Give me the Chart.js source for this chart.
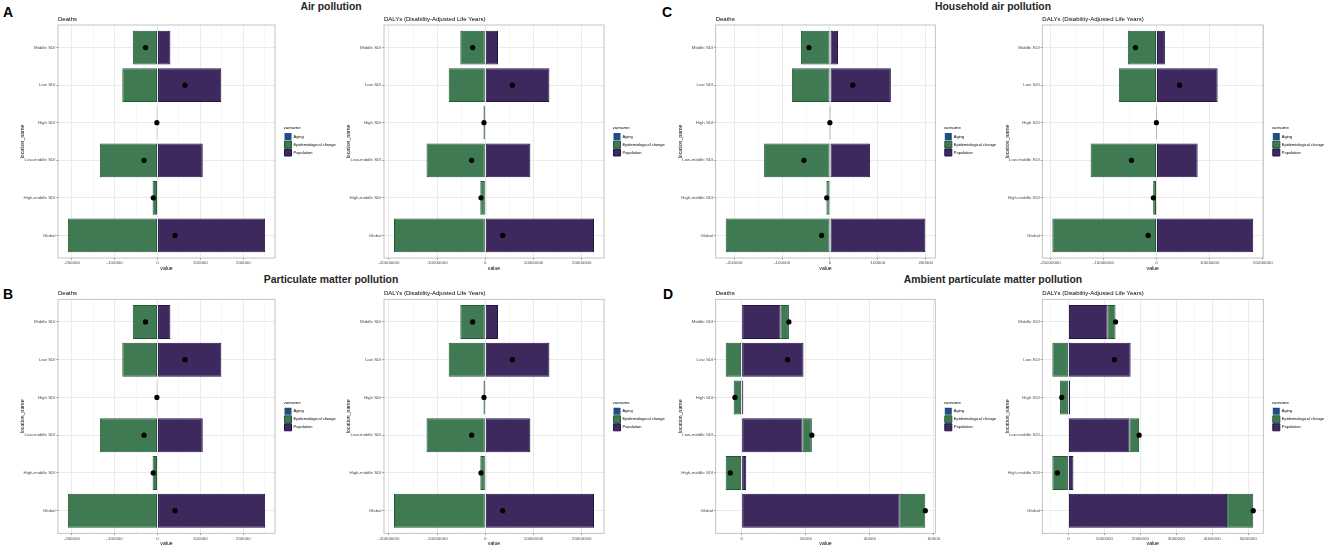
<!DOCTYPE html>
<html><head><meta charset="utf-8">
<script src="https://cdn.jsdelivr.net/npm/chart.js@4.4.1/dist/chart.umd.min.js"></script>
<style>
html,body{margin:0;padding:0;background:#fff;}
#fig{position:relative;width:1325px;height:547px;overflow:hidden;background:#fff;font-family:"Liberation Sans",Arial,sans-serif;}
.lab{position:absolute;font-weight:bold;line-height:1;white-space:nowrap;color:#000;font-size:14px;}
.ttl{position:absolute;font-weight:bold;line-height:1;white-space:nowrap;color:#262626;font-size:10.4px;transform:translateX(-50%);}
canvas{position:absolute;}
</style></head><body><div id="fig">
<div class="lab" style="left:3px;top:4.9px">A</div>
<div class="lab" style="left:3px;top:286.5px">B</div>
<div class="lab" style="left:662px;top:4.9px">C</div>
<div class="lab" style="left:663px;top:286.5px">D</div>
<div class="ttl" style="left:331px;top:1.8px">Air pollution</div>
<div class="ttl" style="left:993px;top:1.8px">Household air pollution</div>
<div class="ttl" style="left:331px;top:275.3px">Particulate matter pollution</div>
<div class="ttl" style="left:993px;top:275.3px">Ambient particulate matter pollution</div>
</div>
<script>
// ---------- data ----------
const categories = ['Middle SDI', 'Low SDI', 'High SDI', 'Low-middle SDI', 'High-middle SDI', 'Global'];
const seriesNames = ['Aging', 'Epidemiological change', 'Population'];

const deathTicksABC = [-200000, -100000, 0, 100000, 200000];
const dalyTicksABC = [-20000000, -10000000, 0, 10000000, 20000000];
const deathTicksD = [0, 20000, 40000, 60000];
const dalyTicksD = [0, 1000000, 2000000, 3000000, 4000000, 5000000];

// A: Air pollution
const airDeathsAging = [0, 0, 0, 0, 0, 0];
const airDeathsEpi = [-57700, -82200, -2000, -134600, -11500, -209200];
const airDeathsPop = [30000, 148700, 500, 105500, 1500, 251000];
const airDeathsTotal = [-28000, 64000, -1500, -31400, -10000, 40800];
const airDalysAging = [0, 0, 0, 0, 0, 0];
const airDalysEpi = [-5190000, -7600000, -380000, -12200000, -1040000, -18950000];
const airDalysPop = [2630000, 13300000, 100000, 9350000, 200000, 22550000];
const airDalysTotal = [-2630000, 5600000, -280000, -2840000, -900000, 3600000];

// B: Particulate matter pollution
const pmDeathsAging = [0, 0, 0, 0, 0, 0];
const pmDeathsEpi = [-57700, -82200, -2000, -134600, -11500, -209200];
const pmDeathsPop = [30000, 148700, 500, 105500, 1500, 251000];
const pmDeathsTotal = [-28000, 64000, -1500, -31400, -10000, 40800];
const pmDalysAging = [0, 0, 0, 0, 0, 0];
const pmDalysEpi = [-5190000, -7600000, -380000, -12200000, -1040000, -18950000];
const pmDalysPop = [2630000, 13300000, 100000, 9350000, 200000, 22550000];
const pmDalysTotal = [-2630000, 5600000, -280000, -2840000, -900000, 3600000];

// C: Household air pollution
const hhDeathsAging = [0, 0, 0, 0, 0, 0];
const hhDeathsEpi = [-60800, -79700, -400, -137700, -7500, -218000];
const hhDeathsPop = [16800, 127200, 150, 83900, 600, 199200];
const hhDeathsTotal = [-44000, 47500, -250, -54500, -6900, -17500];
const hhDalysAging = [0, 0, 0, 0, 0, 0];
const hhDalysEpi = [-5400000, -7100000, -40000, -12400000, -630000, -19600000];
const hhDalysPop = [1580000, 11500000, 15000, 7740000, 50000, 18200000];
const hhDalysTotal = [-3960000, 4340000, -25000, -4720000, -600000, -1570000];

// D: Ambient particulate matter pollution
const ambDeathsAging = [0, 0, 0, 0, 0, 0];
const ambDeathsEpi = [2600, -4980, -2490, 2900, -4980, 8000];
const ambDeathsPop = [12150, 19300, 520, 19000, 1430, 49300];
const ambDeathsTotal = [14750, 14330, -2090, 21900, -3550, 57300];
const ambDalysAging = [0, 0, 0, 0, 0, 0];
const ambDalysEpi = [220000, -447000, -232000, 271000, -447000, 727000];
const ambDalysPop = [1090000, 1730000, 47000, 1695000, 140000, 4413000];
const ambDalysTotal = [1310000, 1277000, -185000, 1966000, -307000, 5140000];

// ---------- styling / layout ----------
const FONT = '"Liberation Sans", Arial, sans-serif';
Chart.defaults.font.family = FONT;
const COLORS = {
  'Aging': {fill: '#1F4F82', line: '#0D3263'},
  'Epidemiological change': {fill: '#3F7A52', line: '#1F5A33'},
  'Population': {fill: '#3D295E', line: '#231047'}
};
const WY = 38.3, TH = 9.2, XH = 13.3, GAP = 8.5, LW = 56, EXTRA = 16;
const ROW1 = {T: 25, B: 258}, ROW2 = {T: 299.3, B: 533.3};
const COLS = [{L: 58, R: 275}, {L: 384, R: 604}, {L: 715.7, R: 935.3}, {L: 1042.3, R: 1263.3}];

const panels = [
  {sub: 'Deaths', row: ROW1, col: COLS[0], ticks: deathTicksABC, aging: airDeathsAging, epi: airDeathsEpi, pop: airDeathsPop, total: airDeathsTotal},
  {sub: 'DALYs (Disability-Adjusted Life Years)', row: ROW1, col: COLS[1], ticks: dalyTicksABC, aging: airDalysAging, epi: airDalysEpi, pop: airDalysPop, total: airDalysTotal},
  {sub: 'Deaths', row: ROW1, col: COLS[2], ticks: deathTicksABC, aging: hhDeathsAging, epi: hhDeathsEpi, pop: hhDeathsPop, total: hhDeathsTotal},
  {sub: 'DALYs (Disability-Adjusted Life Years)', row: ROW1, col: COLS[3], ticks: dalyTicksABC, aging: hhDalysAging, epi: hhDalysEpi, pop: hhDalysPop, total: hhDalysTotal},
  {sub: 'Deaths', row: ROW2, col: COLS[0], ticks: deathTicksABC, aging: pmDeathsAging, epi: pmDeathsEpi, pop: pmDeathsPop, total: pmDeathsTotal},
  {sub: 'DALYs (Disability-Adjusted Life Years)', row: ROW2, col: COLS[1], ticks: dalyTicksABC, aging: pmDalysAging, epi: pmDalysEpi, pop: pmDalysPop, total: pmDalysTotal},
  {sub: 'Deaths', row: ROW2, col: COLS[2], ticks: deathTicksD, aging: ambDeathsAging, epi: ambDeathsEpi, pop: ambDeathsPop, total: ambDeathsTotal},
  {sub: 'DALYs (Disability-Adjusted Life Years)', row: ROW2, col: COLS[3], ticks: dalyTicksD, aging: ambDalysAging, epi: ambDalysEpi, pop: ambDalysPop, total: ambDalysTotal}
];

const panelBorder = {
  id: 'panelBorder',
  afterDraw(c) {
    const a = c.chartArea, ctx = c.ctx;
    ctx.save();
    ctx.strokeStyle = '#B5B5B5';
    ctx.lineWidth = 0.8;
    ctx.strokeRect(a.left, a.top, a.right - a.left, a.bottom - a.top);
    ctx.restore();
  }
};

function limits(p) {
  let lo = 0, hi = 0;
  for (let i = 0; i < categories.length; i++) {
    let neg = 0, pos = 0;
    [p.aging[i], p.epi[i], p.pop[i]].forEach(v => { if (v < 0) neg += v; else pos += v; });
    lo = Math.min(lo, neg, p.total[i]);
    hi = Math.max(hi, pos, p.total[i]);
  }
  const pad = (hi - lo) * 0.05;
  return [lo - pad, hi + pad];
}

function barDs(name, values) {
  return {
    type: 'bar', label: name, xAxisID: 'x', yAxisID: 'y',
    data: values.map((v, i) => ({x: v, y: i + 1})),
    backgroundColor: COLORS[name].fill, borderColor: COLORS[name].line,
    borderWidth: c => (c.type === 'data' && c.raw && c.raw.x === 0) ? 0 : 1,
    borderSkipped: false, barPercentage: 0.9, categoryPercentage: 1.0
  };
}

const fig = document.getElementById('fig');
panels.forEach(p => {
  const L = p.col.L, R = p.col.R, T = p.row.T, B = p.row.B;
  const [lo, hi] = limits(p);
  const major = p.ticks.filter(v => v >= lo && v <= hi);
  const st = p.ticks[1] - p.ticks[0];
  const minor = [];
  for (let v = p.ticks[0] - st / 2; v <= hi; v += st) if (v >= lo) minor.push(v);

  const cl = Math.floor(L - WY) - 1, ct = Math.floor(T - TH) - 1;
  const cr = Math.ceil(R + GAP + LW + EXTRA), cb = Math.ceil(B + XH) + 1;
  const padding = {left: L - WY - cl, top: T - TH - ct, right: cr - (R + GAP + LW), bottom: cb - (B + XH)};
  const cv = document.createElement('canvas');
  cv.width = cr - cl; cv.height = cb - ct;
  cv.style.left = cl + 'px'; cv.style.top = ct + 'px';
  cv.style.width = (cr - cl) + 'px'; cv.style.height = (cb - ct) + 'px';
  fig.appendChild(cv);

  new Chart(cv, {
    type: 'bar',
    data: {
      datasets: [
        {type: 'scatter', label: 'Total', xAxisID: 'x', yAxisID: 'y', stack: 'pts',
         data: p.total.map((v, i) => ({x: v, y: i + 1})),
         backgroundColor: '#000', borderColor: '#000', borderWidth: 0, pointRadius: 2.6, clip: false},
        barDs('Population', p.pop),
        barDs('Epidemiological change', p.epi),
        barDs('Aging', p.aging)
      ]
    },
    options: {
      indexAxis: 'y', responsive: false, animation: false, events: [],
      layout: {padding: padding, autoPadding: false},
      scales: {
        xm: {type: 'linear', axis: 'x', position: 'bottom', bounds: 'data', min: lo, max: hi, display: true, offset: false,
             ticks: {display: false},
             afterBuildTicks: s => { s.ticks = minor.map(v => ({value: v})); },
             grid: {color: '#F3F3F3', lineWidth: 0.6, drawTicks: false, offset: false}, border: {display: false},
             afterFit: s => { s.height = 0; }},
        x: {type: 'linear', position: 'bottom', stacked: true, bounds: 'data', min: lo, max: hi, offset: false,
            afterBuildTicks: s => { s.ticks = major.map(v => ({value: v})); },
            ticks: {font: {size: 4.4}, color: '#4D4D4D', padding: 1, maxRotation: 0, minRotation: 0, autoSkip: false,
                    callback: v => String(v)},
            grid: {color: '#EBEBEB', lineWidth: 1, tickLength: 1.5, tickColor: '#333333', tickWidth: 0.6, offset: false},
            border: {display: false},
            title: {display: true, text: 'value', font: {size: 5.2}, color: '#000', padding: 0},
            afterFit: s => { s.height = XH; }},
        y: {type: 'linear', position: 'left', stacked: true, reverse: true, bounds: 'data', min: 0.4, max: 6.6, offset: false,
            afterBuildTicks: s => { s.ticks = categories.map((c, i) => ({value: i + 1})); },
            ticks: {font: {size: 4.4}, color: '#4D4D4D', padding: 1, autoSkip: false,
                    callback: v => categories[Math.round(v) - 1] || ''},
            grid: {color: '#EBEBEB', lineWidth: 1, tickLength: 1.5, tickColor: '#333333', tickWidth: 0.6, offset: false},
            border: {display: false},
            title: {display: true, text: 'location_name', font: {size: 5.2}, color: '#000', padding: 0},
            afterFit: s => { s.width = WY; }},
        gap: {type: 'linear', axis: 'y', position: 'right', display: true, offset: false,
              ticks: {display: false}, grid: {display: false}, border: {display: false},
              afterFit: s => { s.width = GAP; }}
      },
      plugins: {
        tooltip: {enabled: false},
        title: {display: true, text: p.sub, align: 'start', position: 'top', fullSize: false,
                font: {size: 6, weight: 'normal', lineHeight: 1.2}, color: '#000', padding: {top: 0, bottom: 2}},
        legend: {
          display: true, position: 'right', align: 'center', fullSize: false, reverse: true, maxWidth: LW,
          title: {display: true, text: 'varname', position: 'start', color: '#000', padding: 0,
                  font: {size: 4.4, lineHeight: '6px'}},
          labels: {boxWidth: 7, boxHeight: 7, padding: 1, color: '#000', font: {size: 4},
                   filter: it => seriesNames.includes(it.text)}
        }
      }
    },
    plugins: [panelBorder]
  });
});
</script>
</body></html>
